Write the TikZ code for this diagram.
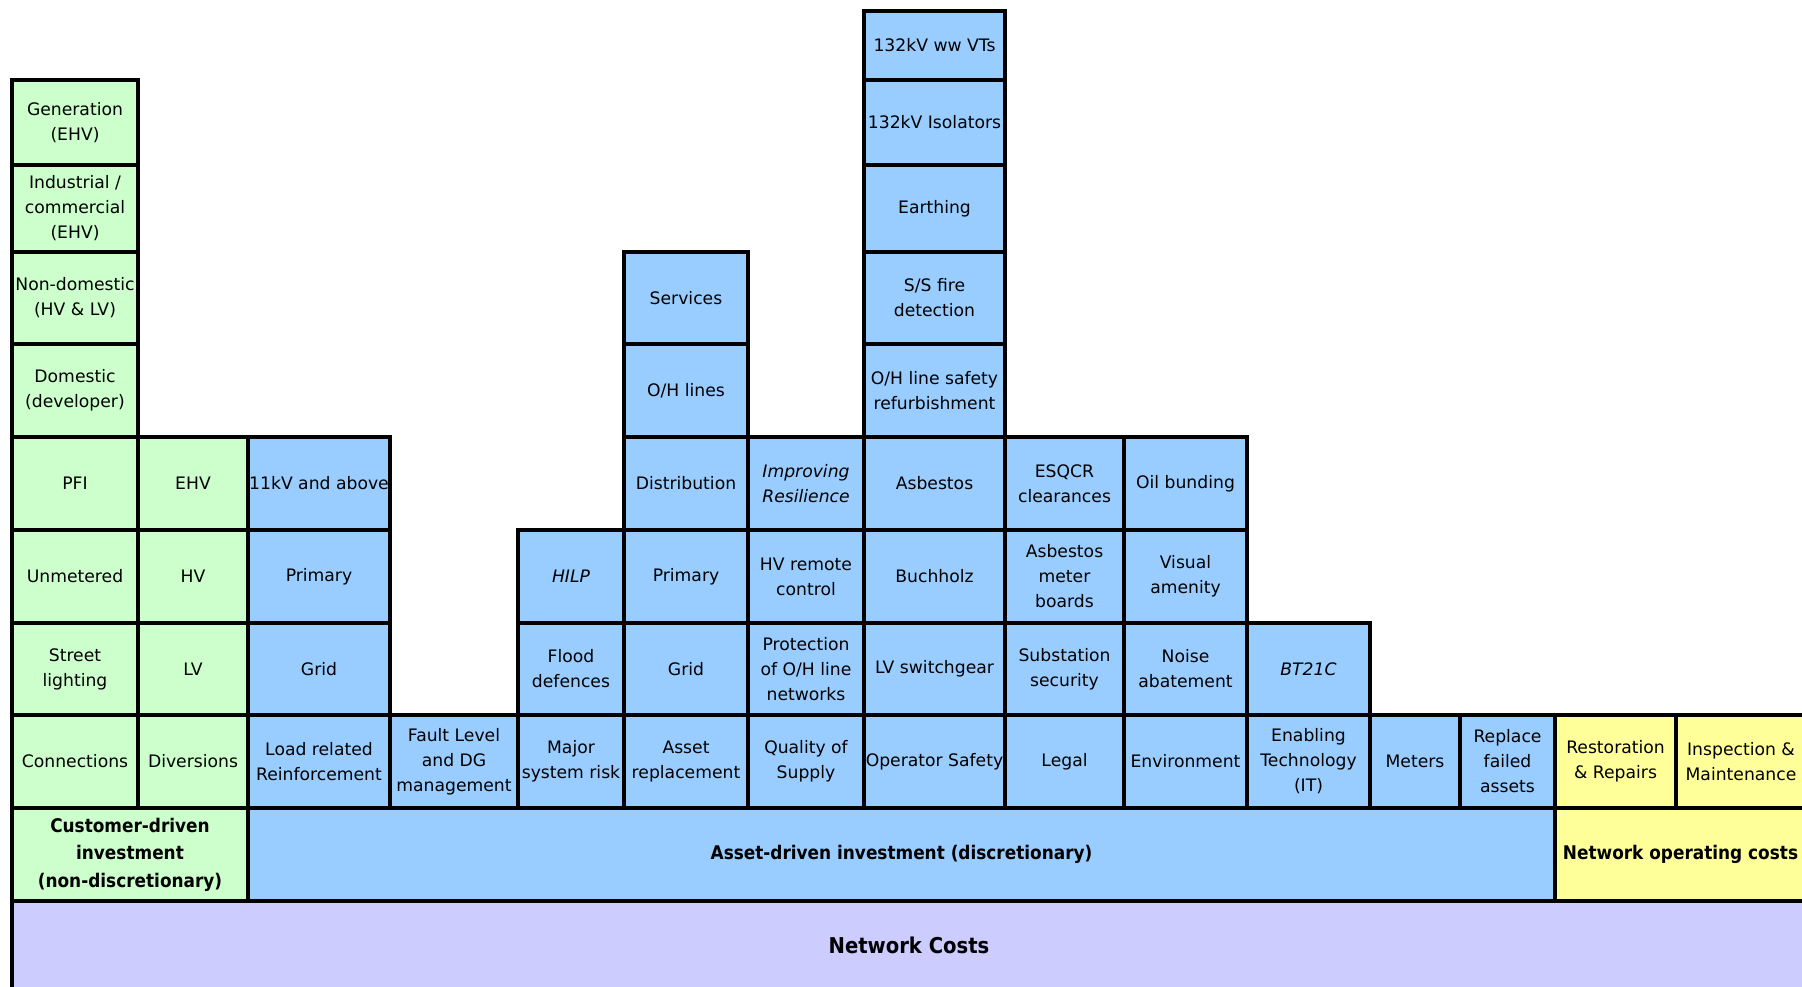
\documentclass[tikz,border=0pt]{standalone}
\usepackage{fontspec}
\setmainfont{DejaVu Sans}
\newfontfamily\headfont{DejaVu Sans Condensed}
\usepackage{xcolor}
\usepackage{tikz}
\definecolor{custgreen}{HTML}{CCFFCC}
\definecolor{assetblue}{HTML}{99CCFF}
\definecolor{opyellow}{HTML}{FFFF99}
\definecolor{netlilac}{HTML}{CCCCFF}

\begin{document}
\begin{tikzpicture}[x=0.5pt, y=-0.5pt,
    span/.style n args={4}{at={({(#1+#3)/2},{(#2+#4)/2})},
      minimum width={(#3-#1)*0.5pt}, minimum height={(#4-#2)*0.5pt}},
    cell/.style={draw=black, line width=1.6pt, inner sep=0pt, align=center,
      font=\fontsize{8.6}{12.5}\selectfont},
    cust/.style={cell, fill=custgreen},
    asset/.style={cell, fill=assetblue},
    oper/.style={cell, fill=opyellow},
    head/.style={font=\headfont\bfseries\fontsize{9.4}{13.8}\selectfont}]
  \useasboundingbox (0,0) rectangle (1802,986);
  % customer-driven columns
  \node[cust, span={12}{80}{138}{165}]   (gen)    {Generation\\(EHV)};
  \node[cust, span={12}{165}{138}{252}]  (indcom) {Industrial /\\commercial\\(EHV)};
  \node[cust, span={12}{252}{138}{344}]  (nondom) {Non-domestic\\(HV \& LV)};
  \node[cust, span={12}{344}{138}{437}]  (dom)    {Domestic\\(developer)};
  \node[cust, span={12}{437}{138}{530}]  (pfi)    {PFI};
  \node[cust, span={12}{530}{138}{623}]  (unmet)  {Unmetered};
  \node[cust, span={12}{623}{138}{715}]  (street) {Street\\lighting};
  \node[cust, span={12}{715}{138}{808}]  (conn)   {Connections};
  \node[cust, span={138}{437}{248}{530}] (ehv)    {EHV};
  \node[cust, span={138}{530}{248}{623}] (hv)     {HV};
  \node[cust, span={138}{623}{248}{715}] (lv)     {LV};
  \node[cust, span={138}{715}{248}{808}] (div)    {Diversions};
  % load related and fault level
  \node[asset, span={248}{437}{390}{530}] (kv11)   {11kV and above};
  \node[asset, span={248}{530}{390}{623}] (lrprim) {Primary};
  \node[asset, span={248}{623}{390}{715}] (lrgrid) {Grid};
  \node[asset, span={248}{715}{390}{808}] (load)   {Load related\\Reinforcement};
  \node[asset, span={390}{715}{518}{808}] (fault)  {Fault Level\\and DG\\management};
  % major system risk
  \node[asset, span={518}{530}{624}{623}] (hilp)   {\itshape HILP};
  \node[asset, span={518}{623}{624}{715}] (flood)  {Flood\\defences};
  \node[asset, span={518}{715}{624}{808}] (major)  {Major\\system risk};
  % asset replacement
  \node[asset, span={624}{252}{748}{344}] (serv)   {Services};
  \node[asset, span={624}{344}{748}{437}] (ohl)    {O/H lines};
  \node[asset, span={624}{437}{748}{530}] (distr)  {Distribution};
  \node[asset, span={624}{530}{748}{623}] (arprim) {Primary};
  \node[asset, span={624}{623}{748}{715}] (argrid) {Grid};
  \node[asset, span={624}{715}{748}{808}] (arepl)  {Asset\\replacement};
  % quality of supply
  \node[asset, span={748}{437}{864}{530}] (resil)  {\itshape Improving\\\itshape Resilience};
  \node[asset, span={748}{530}{864}{623}] (hvrem)  {HV remote\\control};
  \node[asset, span={748}{623}{864}{715}] (protoh) {Protection\\of O/H line\\networks};
  \node[asset, span={748}{715}{864}{808}] (qos)    {Quality of\\Supply};
  % operator safety
  \node[asset, span={864}{11}{1005}{80}]   (vts)    {132kV ww VTs};
  \node[asset, span={864}{80}{1005}{165}]  (isol)   {132kV Isolators};
  \node[asset, span={864}{165}{1005}{252}] (earth)  {Earthing};
  \node[asset, span={864}{252}{1005}{344}] (fire)   {S/S fire\\detection};
  \node[asset, span={864}{344}{1005}{437}] (ohsafe) {O/H line safety\\refurbishment};
  \node[asset, span={864}{437}{1005}{530}] (asb)    {Asbestos};
  \node[asset, span={864}{530}{1005}{623}] (buch)   {Buchholz};
  \node[asset, span={864}{623}{1005}{715}] (lvsw)   {LV switchgear};
  \node[asset, span={864}{715}{1005}{808}] (opsafe) {Operator Safety};
  % legal
  \node[asset, span={1005}{437}{1124}{530}] (esqcr)  {ESQCR\\clearances};
  \node[asset, span={1005}{530}{1124}{623}] (asbmb)  {Asbestos\\meter\\boards};
  \node[asset, span={1005}{623}{1124}{715}] (subsec) {Substation\\security};
  \node[asset, span={1005}{715}{1124}{808}] (legal)  {Legal};
  % environment
  \node[asset, span={1124}{437}{1247}{530}] (oil)    {Oil bunding};
  \node[asset, span={1124}{530}{1247}{623}] (visual) {Visual\\amenity};
  \node[asset, span={1124}{623}{1247}{715}] (noise)  {Noise\\abatement};
  \node[asset, span={1124}{715}{1247}{808}] (env)    {Environment};
  % enabling technology, meters, failed assets
  \node[asset, span={1247}{623}{1370}{715}] (bt)     {\itshape BT21C};
  \node[asset, span={1247}{715}{1370}{808}] (it)     {Enabling\\Technology\\(IT)};
  \node[asset, span={1370}{715}{1460}{808}] (meters) {Meters};
  \node[asset, span={1460}{715}{1555}{808}] (failed) {Replace\\failed\\assets};
  % operating costs
  \node[oper, span={1555}{715}{1676}{808}] (restor)  {Restoration\\\& Repairs};
  \node[oper, span={1676}{715}{1806}{808}] (inspect) {Inspection \&\\Maintenance};
  % categories
  \node[cust, head, span={12}{808}{248}{901}]    (custinv)  {Customer-driven\\investment\\(non-discretionary)};
  \node[asset, head, span={248}{808}{1555}{901}] (assetinv) {Asset-driven investment (discretionary)};
  \node[oper, head, span={1555}{808}{1806}{901}] (opcost)   {Network operating costs};
  \node[cell, fill=netlilac, font=\headfont\bfseries\fontsize{10.9}{13}\selectfont,
    span={12}{901}{1806}{990}] (netcost) {Network Costs};
\end{tikzpicture}
\end{document}
